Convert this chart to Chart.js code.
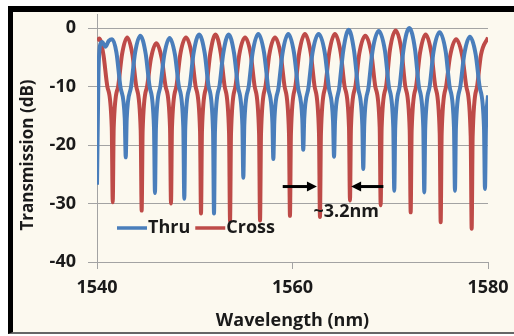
<!DOCTYPE html>
<html>
<head>
<meta charset="utf-8">
<script src="https://cdn.jsdelivr.net/npm/chart.js@4.4.1/dist/chart.umd.min.js"></script>
<style>
  html, body { margin: 0; padding: 0; background: #fff; }
  #frame {
    position: absolute; left: 8px; top: 6px; width: 501px; height: 320px;
    background: #fcf9ef; border-top: 6px solid #000; border-left: 5px solid #000; border-bottom: 2px solid #666;
  }
  #chart { position: absolute; left: 0; top: 0; }
</style>
</head>
<body>
<div id="frame"></div>
<canvas id="chart" width="514" height="336"></canvas>
<script>
// Thru (blue) trace
const thruWl = [
  1540.00, 1540.15, 1540.30, 1540.55, 1540.85, 1541.20, 1541.55, 1541.99, 1542.39, 1542.84,
  1542.94, 1543.04, 1543.49, 1543.89, 1544.43, 1544.98, 1545.38, 1545.83,
  1545.93, 1546.03, 1546.48, 1546.88, 1547.43, 1547.98, 1548.38, 1548.83,
  1548.93, 1549.03, 1549.48, 1549.88, 1550.45, 1551.02, 1551.42, 1551.87,
  1551.97, 1552.07, 1552.52, 1552.92, 1553.47, 1554.02, 1554.42, 1554.87,
  1554.97, 1555.07, 1555.52, 1555.92, 1556.50, 1557.09, 1557.49, 1557.94,
  1558.04, 1558.14, 1558.59, 1558.99, 1559.57, 1560.15, 1560.55, 1561.00,
  1561.10, 1561.20, 1561.65, 1562.05, 1562.67, 1563.30, 1563.70, 1564.15,
  1564.25, 1564.35, 1564.80, 1565.20, 1565.75, 1566.29, 1566.69, 1567.14,
  1567.24, 1567.34, 1567.79, 1568.19, 1568.82, 1569.46, 1569.86, 1570.31,
  1570.41, 1570.51, 1570.96, 1571.36, 1571.95, 1572.53, 1572.93, 1573.38,
  1573.48, 1573.58, 1574.03, 1574.43, 1575.05, 1575.67, 1576.07, 1576.52,
  1576.62, 1576.72, 1577.17, 1577.57, 1578.15, 1578.74, 1579.14, 1579.59,
  1579.69, 1579.79, 1580.00
];
const thruDb = [
  -26.8, -8.0, -3.0, -2.4, -3.2, -2.2, -1.9, -4.2, -10.0, -15.5,
  -22.1, -15.5, -10.0, -4.3, -1.3, -4.4, -10.0, -17.0,
  -28.2, -17.0, -10.0, -4.6, -1.7, -4.6, -10.0, -17.0,
  -29.2, -17.0, -10.0, -4.3, -1.1, -4.3, -10.0, -17.5,
  -31.7, -17.5, -10.0, -4.3, -1.1, -4.3, -10.0, -16.5,
  -25.6, -16.5, -10.0, -4.2, -1.0, -4.2, -10.0, -16.0,
  -22.4, -16.0, -10.0, -4.2, -1.0, -4.2, -10.0, -15.5,
  -20.8, -15.5, -10.0, -4.2, -1.0, -4.2, -10.0, -16.0,
  -22.0, -16.0, -10.0, -3.8, -0.3, -3.8, -10.0, -16.5,
  -24.1, -16.5, -10.0, -3.9, -0.5, -3.9, -10.0, -17.0,
  -27.8, -17.0, -10.0, -3.6, 0.0, -3.6, -10.0, -17.0,
  -28.1, -17.0, -10.0, -4.0, -0.7, -4.0, -10.0, -17.0,
  -27.8, -17.0, -10.0, -4.5, -1.5, -4.5, -10.0, -17.0,
  -27.5, -17.0, -11.5
];

// Cross (red) trace
const crossWl = [
  1540.00, 1540.25, 1540.66, 1541.06, 1541.51,
  1541.61, 1541.71, 1542.16, 1542.56, 1543.09, 1543.62, 1544.02, 1544.47,
  1544.57, 1544.67, 1545.12, 1545.52, 1546.07, 1546.62, 1547.02, 1547.47,
  1547.57, 1547.67, 1548.12, 1548.52, 1549.10, 1549.69, 1550.09, 1550.54,
  1550.64, 1550.74, 1551.19, 1551.59, 1552.12, 1552.66, 1553.06, 1553.51,
  1553.61, 1553.71, 1554.16, 1554.56, 1555.15, 1555.73, 1556.13, 1556.58,
  1556.68, 1556.78, 1557.23, 1557.63, 1558.21, 1558.79, 1559.19, 1559.64,
  1559.74, 1559.84, 1560.29, 1560.69, 1561.27, 1561.86, 1562.26, 1562.71,
  1562.81, 1562.91, 1563.36, 1563.76, 1564.34, 1564.93, 1565.33, 1565.78,
  1565.88, 1565.98, 1566.43, 1566.83, 1567.45, 1568.07, 1568.47, 1568.92,
  1569.02, 1569.12, 1569.57, 1569.97, 1570.55, 1571.14, 1571.54, 1571.99,
  1572.09, 1572.19, 1572.64, 1573.04, 1573.62, 1574.21, 1574.61, 1575.06,
  1575.16, 1575.26, 1575.71, 1576.11, 1576.74, 1577.38, 1577.78, 1578.23,
  1578.33, 1578.43, 1578.88, 1579.28, 1580.00
];
const crossDb = [
  -2.1, -1.8, -4.6, -10.0, -17.0,
  -29.8, -17.0, -10.0, -4.5, -1.6, -4.5, -10.0, -17.5,
  -31.2, -17.5, -10.0, -5.2, -2.6, -5.2, -10.0, -17.0,
  -30.0, -17.0, -10.0, -4.5, -1.6, -4.5, -10.0, -17.5,
  -31.7, -17.5, -10.0, -4.3, -1.1, -4.3, -10.0, -18.0,
  -33.0, -18.0, -10.0, -4.5, -1.6, -4.5, -10.0, -18.0,
  -32.9, -18.0, -10.0, -4.5, -1.6, -4.5, -10.0, -18.0,
  -32.1, -18.0, -10.0, -4.2, -1.0, -4.2, -10.0, -18.0,
  -32.3, -18.0, -10.0, -4.2, -1.0, -4.2, -10.0, -17.0,
  -29.5, -17.0, -10.0, -4.4, -1.3, -4.4, -10.0, -17.0,
  -30.3, -17.0, -10.0, -3.7, -0.4, -3.7, -10.0, -17.5,
  -31.5, -17.5, -10.0, -4.3, -1.1, -4.3, -10.0, -18.0,
  -33.2, -18.0, -10.0, -4.9, -1.9, -4.9, -10.0, -18.5,
  -34.3, -18.5, -10.0, -4.6, -1.6
];

const seriesNames = ["Thru", "Cross"];
const seriesColors = ["#4a7ebb", "#be4b48"];
const xTicks = [1540, 1560, 1580];
const yTicks = [-40, -30, -20, -10, 0];

// FSR marker: arrows [tail, head] in nm, at a fixed dB level, and its label
const fsrArrows = [[1559.0, 1562.5], [1569.3, 1566.0]];
const fsrArrowDb = -27.1;
const fsrLabel = "~3.2nm";
const fsrLabelAt = [1565.5, -31.5];

const FONT = "'Open Sans', 'DejaVu Sans', sans-serif";
const TEXT = "#1a1a1a";
const GRID = "#a3a3a3";

Chart.defaults.font.family = FONT;
Chart.defaults.font.size = 18;
Chart.defaults.font.weight = "bold";
Chart.defaults.color = TEXT;

const legendInside = {
  id: "legendInside",
  afterDatasetsDraw(chart) {
    const { ctx, chartArea } = chart;
    let x = chartArea.left + 20;
    const y = chartArea.bottom - 34;
    ctx.save();
    ctx.font = "bold 18px " + FONT;
    ctx.textBaseline = "middle";
    chart.data.datasets.forEach((ds) => {
      ctx.strokeStyle = ds.borderColor;
      ctx.lineWidth = 3.5;
      ctx.beginPath();
      ctx.moveTo(x, y);
      ctx.lineTo(x + 30, y);
      ctx.stroke();
      x += 31;
      ctx.fillStyle = TEXT;
      ctx.fillText(ds.label, x, y);
      x += ctx.measureText(ds.label).width + 5;
    });
    ctx.restore();
  },
};

// y title sits a bit lower than the scale centre in the original
const yTitle = {
  id: "yTitle",
  afterDraw(chart) {
    const { ctx } = chart;
    ctx.save();
    ctx.translate(28, 155);
    ctx.rotate(-Math.PI / 2);
    ctx.font = "bold 17px " + FONT;
    ctx.fillStyle = TEXT;
    ctx.textAlign = "center";
    ctx.textBaseline = "middle";
    ctx.fillText(chart.options.scales.y.title.text, 0, 0);
    ctx.restore();
  },
};

const fsrMarker = {
  id: "fsrMarker",
  afterDatasetsDraw(chart) {
    const { ctx } = chart;
    const xs = chart.scales.x;
    const ys = chart.scales.y;
    const py = ys.getPixelForValue(fsrArrowDb);
    ctx.save();
    ctx.strokeStyle = "#000";
    ctx.fillStyle = "#000";
    ctx.lineWidth = 3;
    fsrArrows.forEach(([from, to]) => {
      const x0 = xs.getPixelForValue(from);
      const x1 = xs.getPixelForValue(to);
      const dir = Math.sign(x1 - x0);
      ctx.beginPath();
      ctx.moveTo(x0, py);
      ctx.lineTo(x1 - dir * 8, py);
      ctx.stroke();
      ctx.beginPath();
      ctx.moveTo(x1, py);
      ctx.lineTo(x1 - dir * 10, py - 5);
      ctx.lineTo(x1 - dir * 10, py + 5);
      ctx.closePath();
      ctx.fill();
    });
    ctx.font = "bold 18px " + FONT;
    ctx.fillStyle = TEXT;
    ctx.textAlign = "center";
    ctx.textBaseline = "middle";
    ctx.fillText(fsrLabel, xs.getPixelForValue(fsrLabelAt[0]), ys.getPixelForValue(fsrLabelAt[1]));
    ctx.restore();
  },
};

new Chart(document.getElementById("chart").getContext("2d"), {
  type: "line",
  data: {
    datasets: [
      {
        label: seriesNames[0],
        data: thruWl.map((w, i) => ({ x: w, y: thruDb[i] })),
        borderColor: seriesColors[0],
        backgroundColor: seriesColors[0],
      },
      {
        label: seriesNames[1],
        data: crossWl.map((w, i) => ({ x: w, y: crossDb[i] })),
        borderColor: seriesColors[1],
        backgroundColor: seriesColors[1],
      },
    ],
  },
  options: {
    responsive: false,
    animation: false,
    layout: { padding: { left: 0, right: 26, top: 14, bottom: 0 } },
    elements: {
      line: { borderWidth: 4, cubicInterpolationMode: "monotone", fill: false },
      point: { radius: 0 },
    },
    scales: {
      x: {
        type: "linear",
        min: 1540,
        max: 1580,
        afterFit: (s) => { s.height = 74; s.paddingLeft = 0; s.paddingRight = 0; },
        afterBuildTicks: (s) => { s.ticks = xTicks.map((v) => ({ value: v })); },
        border: { color: GRID, width: 1 },
        grid: { drawOnChartArea: false, drawTicks: true, tickLength: 7, color: GRID },
        ticks: { padding: 8, maxRotation: 0, callback: (v) => String(v) },
        title: { display: true, text: "Wavelength (nm)", padding: { top: 0, bottom: 4 } },
      },
      y: {
        min: -40,
        max: 2.4,
        afterFit: (s) => { s.width = 97; s.paddingTop = 0; s.paddingBottom = 0; },
        afterBuildTicks: (s) => { s.ticks = yTicks.map((v) => ({ value: v })); },
        border: { color: GRID, width: 1 },
        grid: { color: GRID, tickLength: 9 },
        ticks: { padding: 12 },
        title: { display: false, text: "Transmission (dB)" },
      },
    },
    plugins: {
      legend: { display: false },
      tooltip: { enabled: false },
    },
  },
  plugins: [legendInside, fsrMarker, yTitle],
});
</script>
</body>
</html>
